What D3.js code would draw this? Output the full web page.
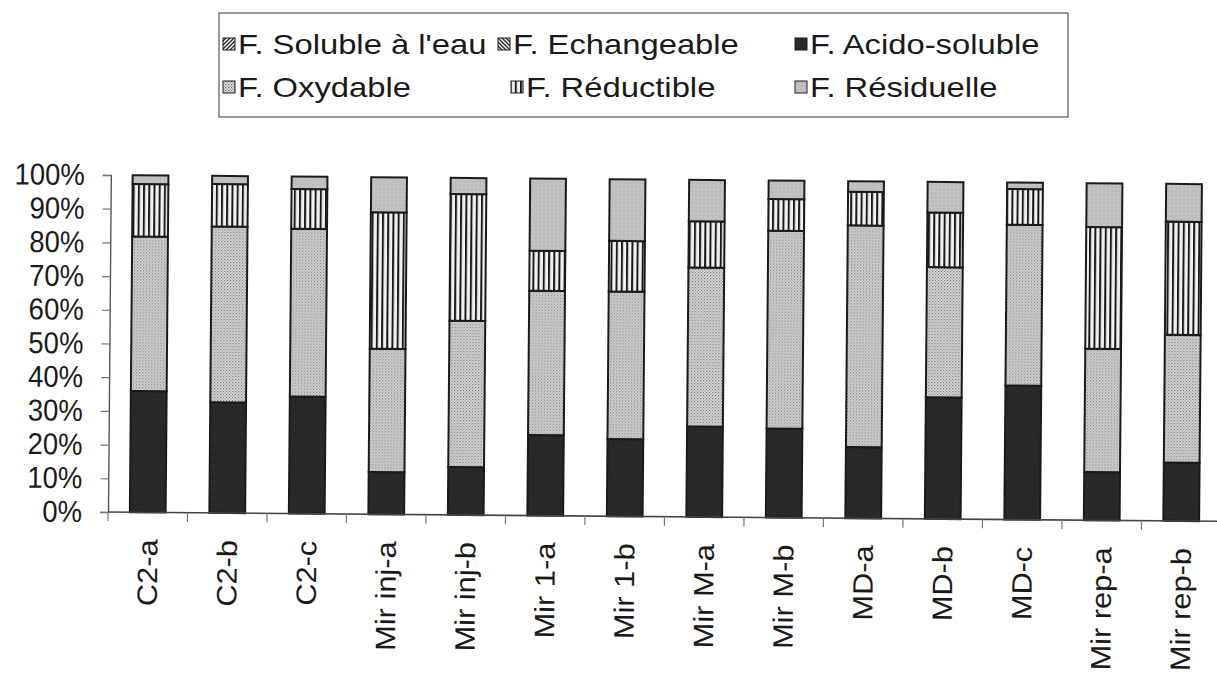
<!DOCTYPE html>
<html>
<head>
<meta charset="utf-8">
<script src="https://cdn.jsdelivr.net/npm/d3@7/dist/d3.min.js"></script>
<style>
  html, body { margin: 0; padding: 0; background: #ffffff; }
  svg { display: block; font-family: "Liberation Sans", Arial, sans-serif; }
</style>
</head>
<body>
<script>
// ---------- data ----------
const categories = ["C2-a","C2-b","C2-c","Mir inj-a","Mir inj-b","Mir 1-a","Mir 1-b","Mir M-a","Mir M-b","MD-a","MD-b","MD-c","Mir rep-a","Mir rep-b"];
const seriesNames = ["F. Soluble à l'eau","F. Echangeable","F. Acido-soluble","F. Oxydable","F. Réductible","F. Résiduelle"];
const soluble     = [0,0,0,0,0,0,0,0,0,0,0,0,0,0];
const echangeable = [0,0,0,0,0,0,0,0,0,0,0,0,0,0];
const acido       = [36.0,32.8,34.7,12.5,14.2,23.9,22.9,26.8,26.4,21.1,36.1,39.8,14.3,17.3];
const oxydable    = [45.8,52.2,49.8,36.6,43.4,42.8,43.8,47.2,58.7,65.8,38.6,47.7,36.6,37.9];
const reductible  = [15.6,12.6,11.8,40.5,37.6,11.9,15.0,13.7,9.4,10.0,16.2,10.6,36.1,33.6];
const residuelle  = [2.6,2.4,3.7,10.4,4.8,21.4,18.3,12.3,5.5,3.1,9.1,1.9,13.0,11.2];
const yTicks = [0,0.1,0.2,0.3,0.4,0.5,0.6,0.7,0.8,0.9,1.0];

const seriesValues = [soluble, echangeable, acido, oxydable, reductible, residuelle];
const rows = categories.map((c, i) => {
  const r = { cat: c };
  seriesNames.forEach((s, k) => r[s] = seriesValues[k][i]);
  return r;
});

// ---------- setup ----------
const W = 1217, H = 673;
const svg = d3.select("body").append("svg").attr("width", W).attr("height", H);
svg.append("rect").attr("width", W).attr("height", H).attr("fill", "#fff");

const defs = svg.append("defs");
// Soluble: diagonal hatch
const pSol = defs.append("pattern").attr("id","p0").attr("patternUnits","userSpaceOnUse").attr("width",4).attr("height",4);
pSol.append("rect").attr("width",4).attr("height",4).attr("fill","#fff");
pSol.append("path").attr("d","M-1,1 l2,-2 M0,4 l4,-4 M3,5 l2,-2").attr("stroke","#222").attr("stroke-width",1.3);
// Echangeable: back diagonal hatch
const pEch = defs.append("pattern").attr("id","p1").attr("patternUnits","userSpaceOnUse").attr("width",4).attr("height",4);
pEch.append("rect").attr("width",4).attr("height",4).attr("fill","#fff");
pEch.append("path").attr("d","M-1,3 l2,2 M0,0 l4,4 M3,-1 l2,2").attr("stroke","#222").attr("stroke-width",1.3);
// Acido-soluble: dark
const pAc = defs.append("pattern").attr("id","p2").attr("patternUnits","userSpaceOnUse").attr("width",4).attr("height",4);
pAc.append("rect").attr("width",4).attr("height",4).attr("fill","#262626");
pAc.append("rect").attr("x",1).attr("y",1).attr("width",1).attr("height",1).attr("fill","#3c3c3c");
pAc.append("rect").attr("x",3).attr("y",3).attr("width",1).attr("height",1).attr("fill","#3c3c3c");
// Oxydable: fine dots
const pOx = defs.append("pattern").attr("id","p3").attr("patternUnits","userSpaceOnUse").attr("width",3).attr("height",3);
pOx.append("rect").attr("width",3).attr("height",3).attr("fill","#e0e0e0");
pOx.append("rect").attr("x",0).attr("y",0).attr("width",1.2).attr("height",1.2).attr("fill","#6e6e6e");
pOx.append("rect").attr("x",1.5).attr("y",1.5).attr("width",1.2).attr("height",1.2).attr("fill","#858585");
// Réductible: vertical lines
const pRe = defs.append("pattern").attr("id","p4").attr("patternUnits","userSpaceOnUse").attr("width",5.2).attr("height",5);
pRe.append("rect").attr("width",5.2).attr("height",5).attr("fill","#f2f2f2");
pRe.append("rect").attr("x",0).attr("width",2).attr("height",5).attr("fill","#1a1a1a");
// Résiduelle: light gray
const pRs = defs.append("pattern").attr("id","p5").attr("patternUnits","userSpaceOnUse").attr("width",4).attr("height",4);
pRs.append("rect").attr("width",4).attr("height",4).attr("fill","#c0c0c0");
pRs.append("rect").attr("x",1).attr("y",2).attr("width",1).attr("height",1).attr("fill","#b0b0b0");
pRs.append("rect").attr("x",3).attr("y",0).attr("width",1).attr("height",1).attr("fill","#cccccc");

const fills = seriesNames.map((s, k) => `url(#p${k})`);

// ---------- chart ----------
const x0 = 108, y0 = 512;
const g = svg.append("g").attr("transform", `rotate(0.48,${x0},${y0})`);

const x = d3.scaleBand().domain(categories).range([x0, x0 + 14 * 79.5])
  .paddingInner(0.55).paddingOuter(0.275);
const y = d3.scaleLinear().domain([0, 1]).range([y0, 175]);

const stacked = d3.stack().keys(seriesNames).offset(d3.stackOffsetExpand)(rows);

stacked.forEach((layer, k) => {
  g.append("g").selectAll("rect")
    .data(layer.filter(d => d[1] - d[0] > 0))
    .join("rect")
    .attr("x", d => x(d.data.cat))
    .attr("width", x.bandwidth())
    .attr("y", d => y(d[1]))
    .attr("height", d => y(d[0]) - y(d[1]))
    .attr("fill", fills[k])
    .attr("stroke", "#1a1a1a")
    .attr("stroke-width", 2);
});

// y axis
const yAxis = g.append("g").attr("transform", `translate(${x0},0)`)
  .call(d3.axisLeft(y).tickValues(yTicks).tickFormat(d3.format(".0%")).tickSize(8).tickPadding(18));
yAxis.select(".domain").attr("stroke", "#555").attr("stroke-width", 1.4);
yAxis.selectAll(".tick line").attr("stroke", "#777").attr("stroke-width", 1.2);
yAxis.selectAll(".tick text")
  .attr("font-size", 27.5)
  .attr("fill", "#1a1a1a")
  .attr("font-family", "Liberation Sans, Arial, sans-serif")
  .attr("transform", "scale(1,1.1)");

// x axis (line + boundary ticks)
const xEnd = x0 + 14 * 79.5;
g.append("line").attr("x1", x0).attr("x2", xEnd).attr("y1", y0).attr("y2", y0)
  .attr("stroke", "#444").attr("stroke-width", 1.6);
const bounds = d3.range(categories.length + 1).map(i => x0 + i * x.step());
g.append("g").selectAll("line").data(bounds).join("line")
  .attr("x1", d => d).attr("x2", d => d)
  .attr("y1", y0).attr("y2", y0 + 9)
  .attr("stroke", "#777").attr("stroke-width", 1.2);

g.append("g").selectAll("text").data(categories).join("text")
  .attr("transform", d => `translate(${x(d) + x.bandwidth() / 2},${y0 + 27}) scale(1,1.1) rotate(-90)`)
  .attr("text-anchor", "end")
  .attr("dy", "0.35em")
  .attr("font-size", 28)
  .attr("fill", "#1a1a1a")
  .text(d => d);

// ---------- legend ----------
const lg = svg.append("g");
lg.append("rect").attr("x", 219).attr("y", 13).attr("width", 849).attr("height", 104)
  .attr("fill", "#fff").attr("stroke", "#555").attr("stroke-width", 1.2);
const legendPos = [
  { sx: 223, cy: 44 }, { sx: 498, cy: 44 }, { sx: 795, cy: 44 },
  { sx: 223, cy: 87 }, { sx: 511, cy: 87 }, { sx: 795, cy: 87 }
];
seriesNames.forEach((s, k) => {
  const p = legendPos[k];
  lg.append("rect").attr("x", p.sx).attr("y", p.cy - 6).attr("width", 12).attr("height", 12)
    .attr("fill", fills[k]).attr("stroke", "#1a1a1a").attr("stroke-width", 1);
  lg.append("text")
    .attr("transform", `translate(${p.sx + 15},${p.cy}) scale(1.17,1)`)
    .attr("dy", "0.35em")
    .attr("font-size", 28)
    .attr("fill", "#1a1a1a")
    .text(s);
});
</script>
</body>
</html>
